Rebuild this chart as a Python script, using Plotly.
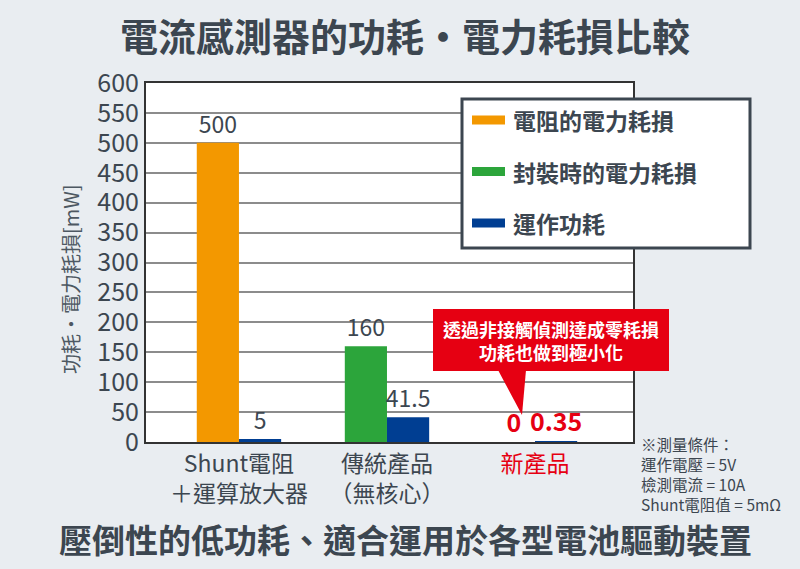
import plotly.graph_objects as go

# chart data
categories = ["Shunt電阻＋運算放大器", "傳統產品（無核心）", "新產品"]
tick_labels = ["Shunt電阻<br>＋運算放大器", "傳統產品<br>（無核心）",
               "<span style='color:#e60012'>新產品</span>"]
resistor_loss = [500, None, None]
package_loss = [None, 160, 0]
operating_power = [5, 41.5, 0.35]
series_names = ["電阻的電力耗損", "封裝時的電力耗損", "運作功耗"]
series_colors = ["#f39800", "#2ca53b", "#003e92"]
notes = ["※測量條件：", "運作電壓 = 5V", "檢測電流 = 10A", "Shunt電阻值 = 5mΩ"]

FONT = "Noto Sans CJK TC"
TXT = "#3c4650"
RED = "#e60012"

# plot box in pixels (for placing the decorations)
L, R, T, B = 146, 633, 83, 442


def px(x):
    return (x - L) / (R - L)


def py(y):
    return (B - y) / (B - T)


def labels(vals, red=False):
    out = []
    for v in vals:
        if v is None:
            out.append("")
        elif red:
            out.append(f"<b>{v:g}</b>")
        else:
            out.append(f"{v:g}")
    return out


fig = go.Figure()
fig.add_trace(go.Bar(x=categories, y=resistor_loss, name=series_names[0],
                     marker_color=series_colors[0], offsetgroup="loss",
                     text=labels(resistor_loss), textposition="outside",
                     textfont=dict(color=TXT, size=23)))
fig.add_trace(go.Bar(x=categories, y=package_loss, name=series_names[1],
                     marker_color=series_colors[1], offsetgroup="loss",
                     text=labels(package_loss[:2]) + labels(package_loss[2:], True),
                     textposition="outside",
                     textfont=dict(color=[TXT, TXT, RED], size=[23, 23, 25])))
fig.add_trace(go.Bar(x=categories, y=operating_power, name=series_names[2],
                     marker_color=series_colors[2], offsetgroup="power",
                     text=labels(operating_power[:2]) + labels(operating_power[2:], True),
                     textposition="outside",
                     textfont=dict(color=[TXT, TXT, RED], size=[23, 23, 25])))
fig.update_traces(cliponaxis=False, textangle=0, marker_line_width=0,
                  constraintext="none")

shapes = []
annotations = []

# legend box drawn by hand (wide flat swatches like the original)
shapes.append(dict(type="rect", xref="paper", yref="paper",
                   x0=px(462), x1=px(750), y0=py(248), y1=py(99),
                   fillcolor="white", line=dict(color=TXT, width=3)))
for i, (name, col) in enumerate(zip(series_names, series_colors)):
    yc = 120 + i * 51.5
    shapes.append(dict(type="rect", xref="paper", yref="paper",
                       x0=px(472), x1=px(505), y0=py(yc + 4.5), y1=py(yc - 4.5),
                       fillcolor=col, line_width=0))
    annotations.append(dict(xref="paper", yref="paper", x=px(511), y=py(yc),
                            text=f"<b>{name}</b>", showarrow=False,
                            xanchor="left", yanchor="middle",
                            font=dict(size=23, color=TXT, family=FONT)))

# red callout
shapes.append(dict(type="rect", xref="paper", yref="paper",
                   x0=px(433), x1=px(669), y0=py(371), y1=py(309),
                   fillcolor=RED, line_width=0))
shapes.append(dict(type="path", xref="paper", yref="paper",
                   path=f"M {px(498)},{py(370)} L {px(526)},{py(370)} L {px(522)},{py(415)} Z",
                   fillcolor=RED, line_width=0))
annotations.append(dict(xref="paper", yref="paper", x=px(551), y=py(340),
                        text="<b>透過非接觸偵測達成零耗損<br>功耗也做到極小化</b>",
                        showarrow=False, xanchor="center", yanchor="middle",
                        font=dict(size=18, color="white", family=FONT)))

# measurement notes
annotations.append(dict(xref="paper", yref="paper", x=px(639), y=py(431),
                        text="<br>".join(notes), showarrow=False,
                        xanchor="left", yanchor="top", align="left",
                        font=dict(size=15.5, color=TXT, family=FONT)))

# y axis title
annotations.append(dict(xref="paper", yref="paper", x=px(70), y=py(279),
                        text="功耗・電力耗損[mW]", showarrow=False, textangle=-90,
                        xanchor="center", yanchor="middle",
                        font=dict(size=20, color="#4d5862", family=FONT)))

# bottom slogan
annotations.append(dict(xref="paper", yref="paper", x=px(405), y=py(539),
                        text="<b>壓倒性的低功耗、適合運用於各型電池驅動裝置</b>",
                        showarrow=False, xanchor="center", yanchor="middle",
                        font=dict(size=33, color=TXT, family=FONT)))

fig.update_layout(
    width=800, height=569,
    margin=dict(l=L, r=800 - R, t=T, b=569 - B),
    paper_bgcolor="#e9edf1",
    plot_bgcolor="white",
    font=dict(family=FONT, color=TXT),
    title=dict(text="<b>電流感測器的功耗・電力耗損比較</b>",
               x=px(405), xref="paper", xanchor="center",
               y=1 - 38 / 569, yanchor="middle",
               font=dict(size=38, color=TXT, family=FONT)),
    barmode="group", bargap=0.43, bargroupgap=0,
    showlegend=False,
    shapes=shapes,
    annotations=annotations,
)
fig.update_xaxes(type="category", range=[-0.628, 2.662],
                 tickvals=categories, ticktext=tick_labels,
                 tickfont=dict(size=23, color=TXT),
                 showline=True, linecolor="#333333", linewidth=2, mirror=True,
                 ticks="", showgrid=False)
fig.update_yaxes(range=[0, 600], dtick=50,
                 tickfont=dict(size=25, color=TXT),
                 showline=True, linecolor="#333333", linewidth=2, mirror=True,
                 gridcolor="#8c8c8c", gridwidth=1.5, ticks="", zeroline=False)

fig.write_html("out.html", config={"displayModeBar": False},
               post_script="document.body.style.margin='0';")
